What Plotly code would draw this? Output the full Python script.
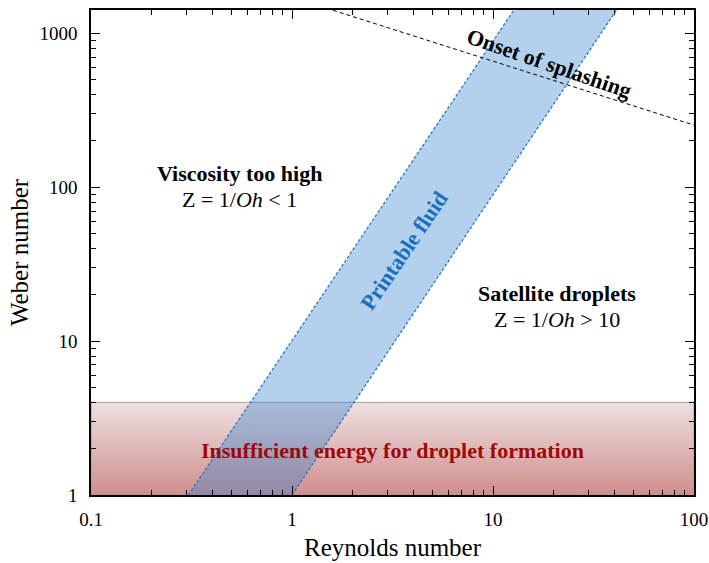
import plotly.graph_objects as go

# --- data ---
band_left_re = [0.305, 12.7]
band_right_re = [1.0, 41.2]
band_we = [1.0, 1416.0]
splash_re = [1.6, 100.0]
splash_we = [1410.0, 253.0]
energy_re = [0.1, 100.0]
energy_we = [1.0, 4.0]
x_ticks = [0.1, 1, 10, 100]
x_ticklabels = ["0.1", "1", "10", "100"]
y_ticks = [1, 10, 100, 1000]
y_ticklabels = ["1", "10", "100", "1000"]

FONT = "Liberation Serif, Times New Roman, serif"

fig = go.Figure()

# insufficient energy region with vertical gradient
fig.add_trace(go.Scatter(
    x=[energy_re[0], energy_re[1], energy_re[1], energy_re[0], energy_re[0]],
    y=[energy_we[0], energy_we[0], energy_we[1], energy_we[1], energy_we[0]],
    mode="lines", fill="toself",
    line=dict(color="rgba(160,160,160,1)", width=1),
    fillgradient=dict(type="vertical",
                      colorscale=[[0, "rgb(208,142,142)"], [1, "rgb(238,224,224)"]]),
    hoverinfo="skip", showlegend=False))

# printable band fill
fig.add_trace(go.Scatter(
    x=[band_left_re[0], band_right_re[0], band_right_re[1], band_left_re[1], band_left_re[0]],
    y=[band_we[0], band_we[0], band_we[1], band_we[1], band_we[0]],
    mode="none", fill="toself", fillcolor="rgba(45,125,205,0.36)",
    hoverinfo="skip", showlegend=False))

for xs in (band_left_re, band_right_re):
    fig.add_trace(go.Scatter(x=xs, y=band_we, mode="lines",
                             line=dict(color="#2a78c8", width=1.3, dash="3px,2px"),
                             hoverinfo="skip", showlegend=False))

fig.add_trace(go.Scatter(x=splash_re, y=splash_we, mode="lines",
                         line=dict(color="black", width=1, dash="4px,3px"),
                         hoverinfo="skip", showlegend=False))

ann = [
    dict(x=-0.259, y=2.09, text="<b>Viscosity too high</b>", color="black"),
    dict(x=-0.259, y=1.92, text="Z = 1/<i>Oh</i> < 1", color="black"),
    dict(x=1.318, y=1.31, text="<b>Satellite droplets</b>", color="black"),
    dict(x=1.318, y=1.14, text="Z = 1/<i>Oh</i> > 10", color="black"),
    dict(x=0.498, y=0.286, text="<b>Insufficient energy for droplet formation</b>",
         color="#a00808"),
]
for a in ann:
    fig.add_annotation(x=a["x"], y=a["y"], text=a["text"], showarrow=False,
                       font=dict(family=FONT, size=22, color=a["color"]))

fig.add_annotation(x=0.557, y=1.59, text="<b>Printable fluid</b>", showarrow=False,
                   textangle=-56, font=dict(family=FONT, size=22, color="#1a6fc0"))
fig.add_annotation(x=1.279, y=2.805, text="<b>Onset of splashing</b>", showarrow=False,
                   textangle=19, font=dict(family=FONT, size=22, color="black"))

minor_x = [v * m for v in (0.1, 1, 10) for m in range(2, 10)]
minor_y = [v * m for v in (1, 10, 100, 1000) for m in range(2, 10)]

axis_common = dict(showline=True, linecolor="black", linewidth=1.5, mirror="ticks",
                   ticks="inside", ticklen=9, tickwidth=1.2, tickcolor="black",
                   showgrid=False, zeroline=False, ticklabeloverflow="allow",
                   automargin=False,
                   tickfont=dict(family=FONT, size=19, color="black"))

fig.update_xaxes(type="log", range=[-1, 2], tickvals=x_ticks, ticktext=x_ticklabels,
                 ticklabelstandoff=6,
                 minor=dict(tickvals=minor_x, ticks="inside", ticklen=5, tickwidth=1,
                            tickcolor="black", showgrid=False),
                 title=dict(text="Reynolds number", font=dict(family=FONT, size=25, color="black"),
                            standoff=10),
                 **axis_common)
fig.update_yaxes(type="log", range=[0, 3.151], tickvals=y_ticks, ticktext=y_ticklabels,
                 ticklabelstandoff=8,
                 minor=dict(tickvals=minor_y, ticks="inside", ticklen=5, tickwidth=1,
                            tickcolor="black", showgrid=False),
                 title=dict(text="Weber number", font=dict(family=FONT, size=25, color="black"),
                            standoff=4),
                 **axis_common)

fig.update_layout(width=709, height=563, margin=dict(l=91, r=15, t=10, b=68, autoexpand=False),
                  plot_bgcolor="white", paper_bgcolor="white", showlegend=False)

fig.write_html("out.html", config={"displayModeBar": False},
               post_script="document.body.style.margin='0px';document.body.style.overflow='hidden';")
